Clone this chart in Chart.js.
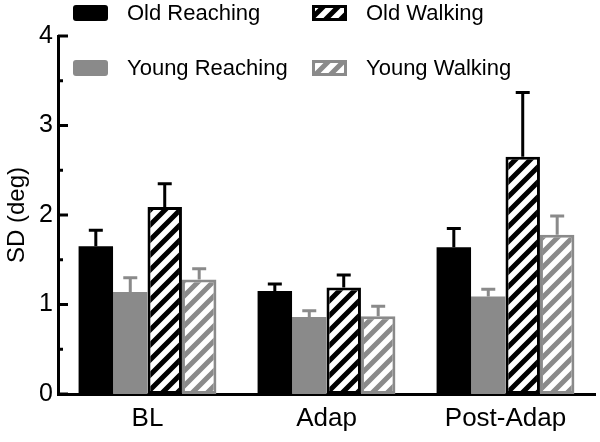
<!DOCTYPE html>
<html>
<head>
<meta charset="utf-8">
<script src="https://cdn.jsdelivr.net/npm/chart.js@4.4.1/dist/chart.umd.min.js"></script>
<style>
  html, body { margin: 0; padding: 0; background: #fff; }
  #wrap { width: 600px; height: 442px; }
</style>
</head>
<body>
<div id="wrap"><canvas id="grafico" width="600" height="442"></canvas></div>
<script>
// valores
const categories = ['BL', 'Adap', 'Post-Adap'];
const seriesNames = ['Old Reaching', 'Young Reaching', 'Old Walking', 'Young Walking'];
const oldReaching = [1.65, 1.15, 1.64];
const oldReachingErr = [0.18, 0.08, 0.21];
const youngReaching = [1.14, 0.86, 1.09];
const youngReachingErr = [0.16, 0.07, 0.08];
const oldWalking = [2.09, 1.19, 2.65];
const oldWalkingErr = [0.26, 0.14, 0.72];
const youngWalking = [1.28, 0.87, 1.78];
const youngWalkingErr = [0.12, 0.11, 0.21];
const yTicks = [0, 1, 2, 3, 4];

const BLACK = '#000000';
const GREY = '#8a8a8a';
const FONT = 'Liberation Sans, Arial, sans-serif';

function hatch(color) {
  var c = document.createElement('canvas');
  c.width = 15; c.height = 15;
  var g = c.getContext('2d');
  g.fillStyle = '#fff';
  g.fillRect(0, 0, 15, 15);
  g.strokeStyle = color;
  g.lineWidth = 5;
  g.beginPath();
  g.moveTo(-7.5, 7.5); g.lineTo(7.5, -7.5);
  g.moveTo(0, 15); g.lineTo(15, 0);
  g.moveTo(7.5, 22.5); g.lineTo(22.5, 7.5);
  g.stroke();
  return g.createPattern(c, 'repeat');
}

var ctx = document.getElementById('grafico').getContext('2d');
const hatchBlack = hatch(BLACK);
const hatchGrey = hatch(GREY);

const datasets = [
  { label: seriesNames[0], data: oldReaching, err: oldReachingErr, edge: BLACK,
    backgroundColor: BLACK, borderWidth: 0 },
  { label: seriesNames[1], data: youngReaching, err: youngReachingErr, edge: GREY,
    backgroundColor: GREY, borderWidth: 0 },
  { label: seriesNames[2], data: oldWalking, err: oldWalkingErr, edge: BLACK,
    backgroundColor: hatchBlack, borderColor: BLACK, borderWidth: 3, borderSkipped: false },
  { label: seriesNames[3], data: youngWalking, err: youngWalkingErr, edge: GREY,
    backgroundColor: hatchGrey, borderColor: GREY, borderWidth: 3, borderSkipped: false }
];

function roundRect(c, x, y, w, h, r) {
  c.beginPath();
  c.moveTo(x + r, y);
  c.arcTo(x + w, y, x + w, y + h, r);
  c.arcTo(x + w, y + h, x, y + h, r);
  c.arcTo(x, y + h, x, y, r);
  c.arcTo(x, y, x + w, y, r);
  c.closePath();
}

// barras de erro (só para cima) e ticks para dentro
const extras = {
  id: 'extras',
  afterDatasetsDraw(chart) {
    const c = chart.ctx;
    const y = chart.scales.y;
    c.save();
    c.lineWidth = 3;
    chart.data.datasets.forEach(function (ds, i) {
      const meta = chart.getDatasetMeta(i);
      meta.data.forEach(function (bar, j) {
        const top = y.getPixelForValue(ds.data[j] + ds.err[j]);
        c.strokeStyle = ds.edge;
        c.beginPath();
        c.moveTo(bar.x, bar.y);
        c.lineTo(bar.x, top);
        c.moveTo(bar.x - 7, top);
        c.lineTo(bar.x + 7, top);
        c.stroke();
      });
    });
    // ticks
    const x0 = chart.chartArea.left;
    c.strokeStyle = BLACK;
    for (let v = 0; v <= 4; v += 0.5) {
      const py = y.getPixelForValue(v);
      const len = (v % 1 === 0) ? 10 : 5;
      c.beginPath();
      c.moveTo(x0, py);
      c.lineTo(x0 + len, py);
      c.stroke();
    }
    c.restore();
  },
  afterDraw(chart) {
    // legenda em duas colunas
    const c = chart.ctx;
    const cols = [73, 312];
    const rows = [13, 68];
    c.save();
    c.font = '22px ' + FONT;
    c.textBaseline = 'middle';
    c.textAlign = 'left';
    chart.data.datasets.forEach(function (ds, i) {
      const col = cols[i < 2 ? 0 : 1];
      const row = rows[i % 2];
      const sx = col, sy = row - 8, sw = 35, sh = 16;
      c.fillStyle = ds.backgroundColor;
      if (ds.borderWidth) {
        c.fillRect(sx, sy, sw, sh);
        c.strokeStyle = ds.edge;
        c.lineWidth = 3;
        c.strokeRect(sx + 1.5, sy + 1.5, sw - 3, sh - 3);
      } else {
        roundRect(c, sx, sy, sw, sh, 3);
        c.fill();
      }
      c.fillStyle = BLACK;
      c.fillText(ds.label, col + 54, row + 1);
    });
    c.restore();
  }
};

var myChart = new Chart(ctx, {
  type: 'bar',
  data: { labels: categories, datasets: datasets },
  plugins: [extras],
  options: {
    responsive: false,
    animation: false,
    layout: { padding: { top: 36, right: 5, left: 0, bottom: 0 } },
    plugins: { legend: { display: false }, tooltip: { enabled: false } },
    datasets: { bar: { categoryPercentage: 0.77, barPercentage: 1.0 } },
    scales: {
      x: {
        grid: { display: false, drawTicks: false },
        border: { color: BLACK, width: 3 },
        ticks: { color: BLACK, font: { family: FONT, size: 26 }, padding: 9 },
        afterFit(s) { s.height = 48; }
      },
      y: {
        min: 0, max: 4,
        afterBuildTicks(s) { s.ticks = yTicks.map(v => ({ value: v })); },
        grid: { display: false, drawTicks: false },
        border: { color: BLACK, width: 3 },
        ticks: { color: BLACK, font: { family: FONT, size: 25 }, padding: 5 },
        title: { display: true, text: 'SD (deg)', color: BLACK,
                 font: { family: FONT, size: 24 }, padding: { top: 3, bottom: 0 } },
        afterFit(s) { s.width = 58; }
      }
    }
  }
});
</script>
</body>
</html>
